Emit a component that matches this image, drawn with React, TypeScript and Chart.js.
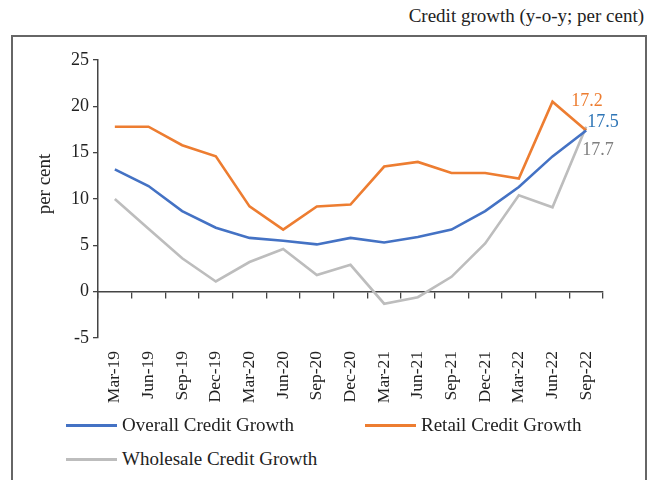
import React, { useEffect, useRef } from "react";
import { Chart, registerables } from "chart.js";

Chart.register(...registerables);

const categories = ["Mar-19","Jun-19","Sep-19","Dec-19","Mar-20","Jun-20","Sep-20","Dec-20","Mar-21","Jun-21","Sep-21","Dec-21","Mar-22","Jun-22","Sep-22"];
const overallGrowth = [13.2, 11.4, 8.7, 6.9, 5.8, 5.5, 5.1, 5.8, 5.3, 5.9, 6.7, 8.7, 11.3, 14.6, 17.4];
const retailGrowth = [17.8, 17.8, 15.8, 14.6, 9.2, 6.7, 9.2, 9.4, 13.5, 14.0, 12.8, 12.8, 12.2, 20.5, 17.4];
const wholesaleGrowth = [10.0, 6.8, 3.6, 1.1, 3.2, 4.6, 1.8, 2.9, -1.3, -0.6, 1.6, 5.2, 10.4, 9.1, 17.8];
const endLabels = ["17.5", "17.2", "17.7"];
const seriesNames = ["Overall Credit Growth", "Retail Credit Growth", "Wholesale Credit Growth"];
const yTicks = { min: -5, max: 25, step: 5 };
const yAxisTitle = "per cent";
const chartTitle = "Credit growth (y-o-y; per cent)";

const BLUE = "#4472C4";
const ORANGE = "#ED7D31";
const GRAY = "#BDBDBD";
const labelColors = ["#2E75B6", "#ED7D31", "#7F7F7F"];
const labelOffsets = [[1, -8], [-15, -29], [-4, 24]];
const FONT = "'Liberation Serif', 'Times New Roman', serif";

const endLabelPlugin = {
  id: "endLabels",
  afterDatasetsDraw(chart: any) {
    const ctx = chart.ctx;
    ctx.save();
    ctx.font = `18px ${FONT}`;
    ctx.textAlign = "left";
    ctx.textBaseline = "middle";
    chart.data.datasets.forEach((ds: any, i: number) => {
      const meta = chart.getDatasetMeta(i);
      const pt = meta.data[meta.data.length - 1];
      if (!pt) return;
      ctx.fillStyle = labelColors[i];
      ctx.fillText(endLabels[i], pt.x + labelOffsets[i][0], pt.y + labelOffsets[i][1]);
    });
    // y axis title
    ctx.translate(45, 184);
    ctx.rotate(-Math.PI / 2);
    ctx.textAlign = "center";
    ctx.fillStyle = "#222";
    ctx.font = `19px ${FONT}`;
    ctx.fillText(yAxisTitle, 0, 0);
    ctx.restore();
  },
};

export default function App() {
  const ref = useRef<HTMLCanvasElement | null>(null);
  useEffect(() => {
    if (!ref.current) return;
    const chart = new Chart(ref.current, {
      type: "line",
      data: {
        labels: categories,
        datasets: [
          { label: seriesNames[0], data: overallGrowth, borderColor: BLUE, backgroundColor: BLUE, borderWidth: 2.6, pointRadius: 0, tension: 0 },
          { label: seriesNames[1], data: retailGrowth, borderColor: ORANGE, backgroundColor: ORANGE, borderWidth: 2.6, pointRadius: 0, tension: 0 },
          { label: seriesNames[2], data: wholesaleGrowth, borderColor: GRAY, backgroundColor: GRAY, borderWidth: 2.6, pointRadius: 0, tension: 0 },
        ],
      },
      options: {
        responsive: false,
        animation: false,
        events: [],
        layout: { padding: { top: 60, right: 53, left: 0, bottom: 0 } },
        plugins: { legend: { display: false }, tooltip: { enabled: false }, title: { display: false } },
        scales: {
          x: {
            type: "category",
            offset: true,
            grid: { display: false },
            border: { display: false },
            ticks: {
              minRotation: 90,
              maxRotation: 90,
              autoSkip: false,
              padding: 5,
              color: "#222",
              font: { family: FONT, size: 17.5 },
            },
            afterFit: (s: any) => { s.height = 82; },
          },
          x2: {
            type: "category",
            labels: categories,
            offset: true,
            position: { y: 0 } as any,
            grid: { offset: true, drawOnChartArea: false, drawTicks: true, tickLength: 6, color: "#444", lineWidth: 1.3 },
            border: { display: true, color: "#444", width: 1.5 },
            ticks: { display: false },
          },
          y: {
            min: yTicks.min,
            max: yTicks.max,
            ticks: { stepSize: yTicks.step, color: "#222", padding: 4, font: { family: FONT, size: 18 } },
            grid: { drawOnChartArea: false, drawTicks: true, tickLength: 5, color: "#444", lineWidth: 1.3 },
            border: { display: true, color: "#444", width: 1.5 },
            title: { display: false },
            afterFit: (s: any) => { s.width = 98; },
          },
        },
      } as any,
      plugins: [endLabelPlugin],
    });
    return () => chart.destroy();
  }, []);

  const legendItem = (left: number, top: number, color: string, text: string) => (
    <div style={{ position: "absolute", left, top: top - 12, height: 24, display: "flex", alignItems: "center", whiteSpace: "nowrap" }}>
      <span style={{ display: "inline-block", width: 51, height: 3, background: color, marginRight: 5 }} />
      <span style={{ fontSize: 19, color: "#222", fontFamily: FONT }}>{text}</span>
    </div>
  );

  return (
    <div style={{ position: "fixed", left: 0, top: 0, width: 656, height: 480, background: "#fff", overflow: "hidden", fontFamily: FONT }}>
      <div style={{ position: "absolute", left: 11, top: 35, width: 632, height: 470, borderLeft: "2px solid #666", borderTop: "2px solid #666", borderRight: "2px solid #666" }} />
      <div style={{ position: "absolute", right: 12, top: 5, fontSize: 19, color: "#222", whiteSpace: "nowrap" }}>{chartTitle}</div>
      <canvas ref={ref} width={656} height={420} style={{ position: "absolute", left: 0, top: 0, width: 656, height: 420 }} />
      {legendItem(66, 425, BLUE, seriesNames[0])}
      {legendItem(365, 425, ORANGE, seriesNames[1])}
      {legendItem(66, 459, GRAY, seriesNames[2])}
    </div>
  );
}
